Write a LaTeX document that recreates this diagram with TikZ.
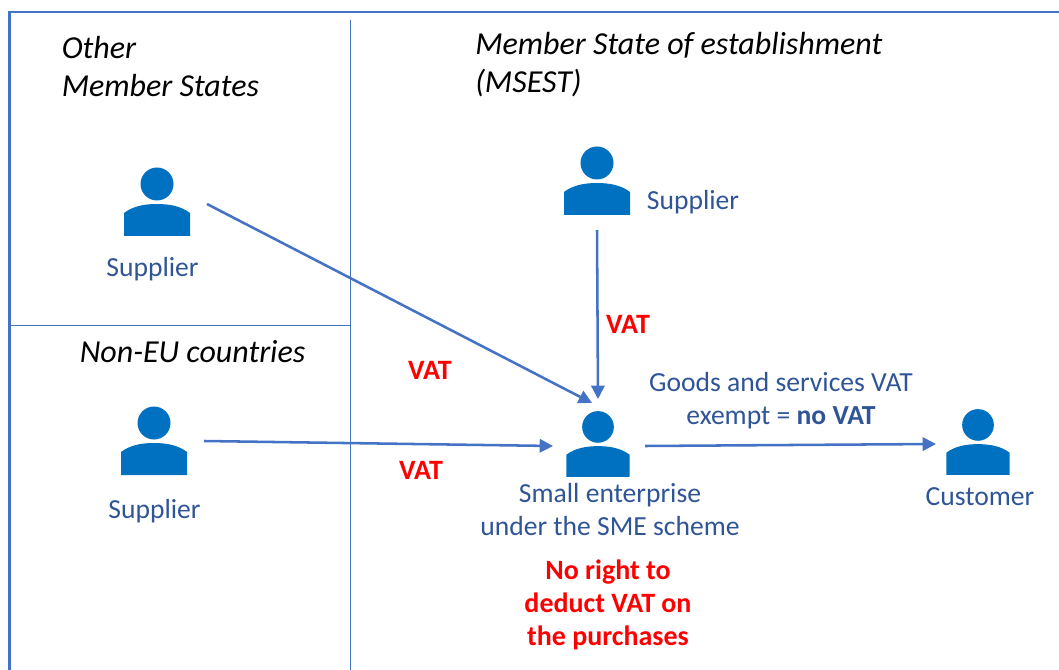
\documentclass[tikz,border=0pt]{standalone}
\usepackage{fontspec}
\setmainfont{Carlito}
\usetikzlibrary{arrows.meta}
\definecolor{frameblue}{HTML}{4472C4}
\definecolor{textblue}{HTML}{2F5597}
\definecolor{iconblue}{HTML}{0070C0}
\definecolor{vatred}{HTML}{FF0000}
\tikzset{
  x=0.75pt,y=-0.75pt,
  frameline/.style={frameblue,line width=1.8pt},
  divider/.style={frameblue,line width=0.7pt},
  conn/.style={frameblue,line width=1.9pt,-{Triangle[length=10pt,width=10pt]}},
  heading/.style={font=\fontsize{24}{28.5}\selectfont\itshape,align=left,text=black,inner sep=0pt},
  label/.style={font=\fontsize{20.7}{25}\selectfont,align=center,text=textblue,inner sep=0pt},
  red label/.style={font=\fontsize{21}{25}\selectfont\bfseries,align=center,text=vatred,inner sep=0pt},
  person/.pic={
    \fill[iconblue] (0,-36) circle (16.5);
    \fill[iconblue] (-33,16) -- (-33,-7) .. controls (-24,-14) and (-12,-16) .. (0,-16)
       .. controls (12,-16) and (24,-14) .. (33,-7) -- (33,16) -- cycle;
  }
}
\begin{document}
\begin{tikzpicture}
\useasboundingbox (0,0) rectangle (1059,670);
% frame and dividers
\draw[frameline] (1059,12) -- (9.5,12) -- (9.5,670);
\draw[divider] (350,20) -- (350,670);
\draw[divider] (10,325) -- (350,325);
% headings
\node[heading,anchor=north west] (hother) at (61.5,36) {Other\\Member States};
\node[heading,anchor=north west] (hmsest) at (475,32) {Member State of establishment\\(MSEST)};
\node[heading,anchor=west] (hnoneu) at (79.5,351.5) {Non-EU countries};
% people
\pic at (157,220) {person};
\pic at (597,199) {person};
\pic at (154,459) {person};
\pic[scale=.96] at (598,461.5) {person};
\pic[scale=.96] at (978,459.5) {person};
% labels
\node[label] (s1) at (152.5,269.5) {Supplier};
\node[label] (s2) at (693,202.5) {Supplier};
\node[label] (s3) at (154.5,511) {Supplier};
\node[label] (sme) at (610,509.5) {Small enterprise\\under the SME scheme};
\node[label] (cust) at (980,497) {Customer};
\node[label] (goods) at (781,400.5) {Goods and services VAT\\exempt = \textbf{no VAT}};
\node[red label] (v1) at (430,370) {VAT};
\node[red label] (v2) at (628,324) {VAT};
\node[red label] (v3) at (421,470) {VAT};
\node[red label] (noright) at (608,605) {No right to\\deduct VAT on\\the purchases};
% connector ends
\coordinate (a1) at (207,204);
\coordinate (b1) at (592,403);
\coordinate (a2) at (597,230);
\coordinate (b2) at (598,399);
\coordinate (a3) at (204,441);
\coordinate (b3) at (553,446);
\coordinate (a4) at (645,446);
\coordinate (b4) at (936,444);
\draw[conn] (a1) -- (b1);
\draw[conn] (a2) -- (b2);
\draw[conn] (a3) -- (b3);
\draw[conn] (a4) -- (b4);
\end{tikzpicture}
\end{document}
